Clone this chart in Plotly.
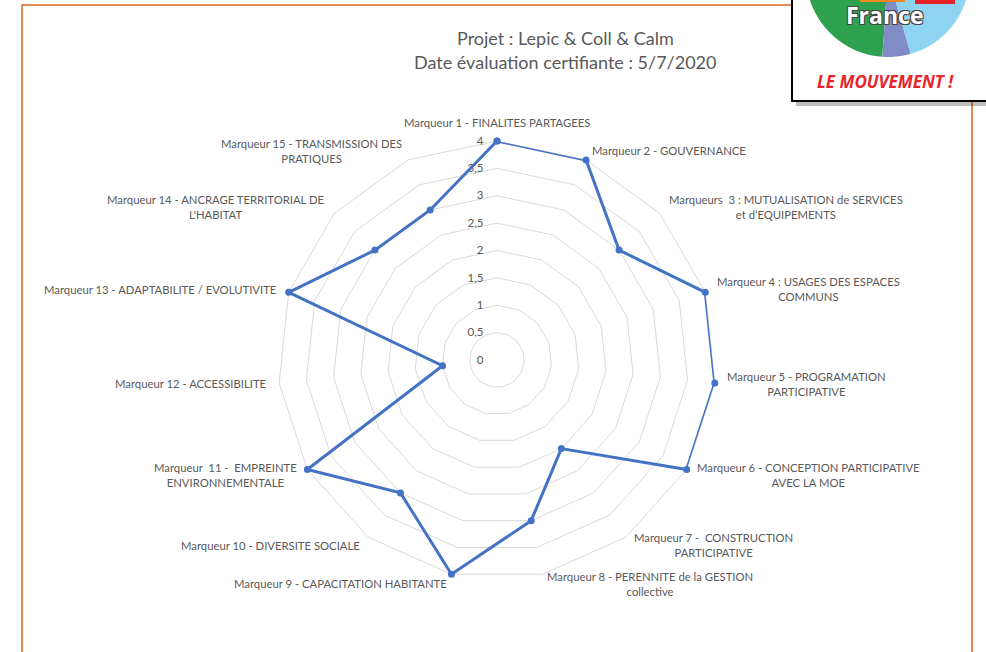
import math
import plotly.graph_objects as go

W, H = 986, 652

# data
markers = [
    "Marqueur 1 - FINALITES PARTAGEES",
    "Marqueur 2 - GOUVERNANCE",
    "Marqueurs  3 : MUTUALISATION de SERVICES<br>et d’EQUIPEMENTS",
    "Marqueur 4 : USAGES DES ESPACES<br>COMMUNS",
    "Marqueur 5 - PROGRAMATION<br>PARTICIPATIVE",
    "Marqueur 6 - CONCEPTION PARTICIPATIVE<br>AVEC LA MOE",
    "Marqueur 7 -  CONSTRUCTION<br>PARTICIPATIVE",
    "Marqueur 8 - PERENNITE de la GESTION<br>collective",
    "Marqueur 9 - CAPACITATION HABITANTE",
    "Marqueur 10 - DIVERSITE SOCIALE",
    "Marqueur  11 -  EMPREINTE<br>ENVIRONNEMENTALE",
    "Marqueur 12 - ACCESSIBILITE",
    "Marqueur 13 - ADAPTABILITE / EVOLUTIVITE",
    "Marqueur 14 - ANCRAGE TERRITORIAL DE<br>L'HABITAT",
    "Marqueur 15 - TRANSMISSION DES<br>PRATIQUES",
]
scores = [4, 4, 3, 4, 4, 4, 2, 3, 4, 3, 4, 1, 4, 3, 3]
r_ticks = [0, 0.5, 1, 1.5, 2, 2.5, 3, 3.5, 4]
r_ticktext = ["0", "0,5", "1", "1,5", "2", "2,5", "3", "3,5", "4"]

title_lines = ["Projet : Lepic & Coll & Calm", "Date évaluation certifiante : 5/7/2020"]

GREY = "#595959"
BLUE = "#4472C4"
ORANGE = "#D9661F"

# polar centre / radius in pixels
CX, CY, RAD = 497, 360, 219


def fx(p):
    return p / W


def fy(p):
    return 1 - p / H


fig = go.Figure()
fig.add_trace(go.Scatterpolar(
    r=scores + scores[:1],
    theta=markers + markers[:1],
    mode="lines+markers",
    line=dict(color=BLUE, width=3),
    marker=dict(color=BLUE, size=7),
    showlegend=False,
))

fig.update_layout(
    width=W, height=H,
    margin=dict(l=0, r=0, t=0, b=0),
    paper_bgcolor="white",
    font=dict(family="Lato", color=GREY),
    polar=dict(
        domain=dict(x=[fx(CX - RAD), fx(CX + RAD)], y=[fy(CY + RAD), fy(CY - RAD)]),
        bgcolor="white",
        gridshape="linear",
        radialaxis=dict(
            range=[0, 4], angle=90, side="counterclockwise",
            tickvals=r_ticks, ticktext=r_ticktext,
            showline=False, ticks="outside", ticklen=9, tickcolor="rgba(0,0,0,0)",
            gridcolor="#d9d9d9", gridwidth=1,
            tickfont=dict(size=11.5, color=GREY),
            tickangle=90, layer="below traces",
        ),
        angularaxis=dict(
            direction="clockwise", rotation=90,
            showgrid=False, showline=True, linecolor="#d9d9d9", linewidth=1,
            ticks="", showticklabels=False, layer="below traces",
        ),
    ),
)

# category labels, centred text placed just outside each spoke end
n = len(markers)
for i, lab in enumerate(markers):
    a = math.radians(360 * i / n)
    s, c = math.sin(a), math.cos(a)
    ex, ey = CX + RAD * s, CY - RAD * c
    if s > 0.1:
        xa = "left"
    elif s < -0.1:
        xa = "right"
    else:
        xa = "center"
    ya = "bottom" if c > 0.99 else "middle"
    fig.add_annotation(x=fx(ex + 10 * s), y=fy(ey - 10 * c), xref="paper", yref="paper",
                       text=lab, showarrow=False, xanchor=xa, yanchor=ya, align="center",
                       font=dict(size=11.3, color=GREY))

# title
for i, line in enumerate(title_lines):
    fig.add_annotation(x=fx(565), y=fy(38 + 24 * i), xref="paper", yref="paper",
                       text=line, showarrow=False, font=dict(size=18, color=GREY),
                       xanchor="center", yanchor="middle")

# orange frame
fig.add_shape(type="rect", xref="paper", yref="paper",
              x0=fx(22), x1=fx(972), y0=fy(700), y1=fy(5),
              line=dict(color=ORANGE, width=1.5), layer="above")

# logo box with shadow
fig.add_shape(type="rect", xref="paper", yref="paper",
              x0=fx(796), x1=fx(1000), y0=fy(106), y1=fy(-10),
              line=dict(width=0), fillcolor="rgba(0,0,0,0.25)", layer="above")
fig.add_shape(type="rect", xref="paper", yref="paper",
              x0=fx(792), x1=fx(1000), y0=fy(101), y1=fy(-10),
              line=dict(color="black", width=2), fillcolor="white", layer="above")


def wedge(cx, cy, rad, a0, a1, n=40):
    pts = [(cx, cy)]
    for k in range(n + 1):
        a = math.radians(a0 + (a1 - a0) * k / n)
        pts.append((cx + rad * math.sin(a), cy - rad * math.cos(a)))
    return "M " + " L ".join(f"{fx(x):.5f},{fy(y):.5f}" for x, y in pts) + " Z"


lx, ly, lr = 888, -25, 82
for a0, a1, col in [(184, 330, "#2FA24F"), (164, 184, "#7F8CC6"), (40, 164, "#8ED4F2")]:
    fig.add_shape(type="path", xref="paper", yref="paper", path=wedge(lx, ly, lr, a0, a1),
                  fillcolor=col, line=dict(width=0), layer="above")
fig.add_shape(type="rect", xref="paper", yref="paper",
              x0=fx(915), x1=fx(955), y0=fy(4), y1=fy(-5),
              fillcolor="#E8202A", line=dict(width=0), layer="above")
fig.add_shape(type="rect", xref="paper", yref="paper",
              x0=fx(860), x1=fx(905), y0=fy(2), y1=fy(-5),
              fillcolor="#F08A1C", line=dict(width=0), layer="above")
fig.add_annotation(x=fx(885), y=fy(15), xref="paper", yref="paper", text="<b>France</b>",
                   showarrow=False, xanchor="center", yanchor="middle",
                   font=dict(family="Open Sans", size=23, color="white",
                             shadow="-1px -1px 0 #444, 1px -1px 0 #444, -1px 1px 0 #444, 1px 1px 0 #444"))
fig.add_annotation(x=fx(885), y=fy(82), xref="paper", yref="paper", text="<b><i>LE MOUVEMENT !</i></b>",
                   showarrow=False, xanchor="center", yanchor="middle",
                   font=dict(family="Open Sans", size=17, color="#E8252B"))

# remove the default page margin so the figure sits at the window's corner
fig.write_html("out.html", config={"displayModeBar": False},
               post_script="document.body.style.margin='0px';")
